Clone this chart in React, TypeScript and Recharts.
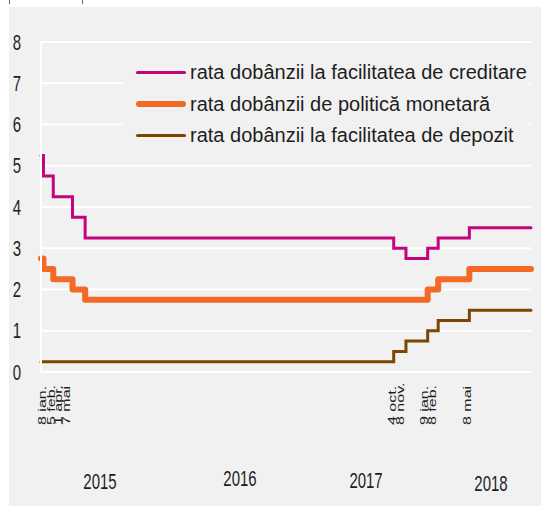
import React from "react";
import {
  LineChart,
  Line,
  XAxis,
  YAxis,
  CartesianGrid,
  Legend,
} from "recharts";

// change dates (first and last row close the range)
const dates = [
  "2015-01-01",
  "2015-01-08",
  "2015-02-05",
  "2015-04-01",
  "2015-05-07",
  "2017-10-04",
  "2017-11-08",
  "2018-01-09",
  "2018-02-08",
  "2018-05-08",
  "2018-10-31",
];
const lending = [5.25, 4.75, 4.25, 3.75, 3.25, 3.0, 2.75, 3.0, 3.25, 3.5, 3.5];
const policy = [2.75, 2.5, 2.25, 2.0, 1.75, 1.75, 1.75, 2.0, 2.25, 2.5, 2.5];
const deposit = [0.25, 0.25, 0.25, 0.25, 0.25, 0.5, 0.75, 1.0, 1.25, 1.5, 1.5];

const seriesKeys = ["lending", "policy", "deposit"];
const seriesNames = [
  "rata dobânzii la facilitatea de creditare",
  "rata dobânzii de politică monetară",
  "rata dobânzii la facilitatea de depozit",
];

const dateTicks = [
  "2015-01-08",
  "2015-02-05",
  "2015-04-01",
  "2015-05-07",
  "2017-10-04",
  "2017-11-08",
  "2018-01-09",
  "2018-02-08",
  "2018-05-08",
];
const dateLabels = [
  "8 ian.",
  "5 feb.",
  "1 apr.",
  "7 mai",
  "4 oct.",
  "8 nov.",
  "9 ian.",
  "8 feb.",
  "8 mai",
];
const yearTicks = ["2015-07-01", "2016-07-01", "2017-07-01", "2018-07-01"];
const yearLabels = ["2015", "2016", "2017", "2018"];
const yTicks = [0, 1, 2, 3, 4, 5, 6, 7, 8];

// label nudges so crowded dates don't overlap
const dateNudge = [-1.5, -2.5, -14.5, -19, -1.7, -6.5, -4, -6, -2];
const yearNudge = [-4.4, 7.4, 5.6, 2.7];
const yearBase = [489, 486, 488, 491];

const COLORS = ["#c2047d", "#f26a26", "#7b4700"];
const WIDTHS = [3, 6, 3];
const BG = "#f1f1f1";
const TEXT = "#1e1e1e";
const FONT = "Liberation Sans, Arial, sans-serif";

const toTs = (d: string) => Date.parse(d + "T00:00:00Z");

const chartData = dates.map((d, i) => ({
  t: toTs(d),
  lending: lending[i],
  policy: policy[i],
  deposit: deposit[i],
}));

const DateTick = (props: any) => {
  const { x, payload } = props;
  const i = dateTicks.findIndex((d) => toTs(d) === payload.value);
  if (i < 0) return null;
  return (
    <text
      transform={`translate(${x + dateNudge[i]},425) rotate(-90) scale(1,0.72)`}
      textAnchor="start"
      dominantBaseline="central"
      fontSize={16}
      fontFamily={FONT}
      fill={TEXT}
    >
      {dateLabels[i]}
    </text>
  );
};

const YearTick = (props: any) => {
  const { x, payload } = props;
  const i = yearTicks.findIndex((d) => toTs(d) === payload.value);
  if (i < 0) return null;
  return (
    <text
      transform={`translate(${x + yearNudge[i]},${yearBase[i]}) scale(0.68,1)`}
      textAnchor="middle"
      fontSize={22}
      fontFamily={FONT}
      fill={TEXT}
    >
      {yearLabels[i]}
    </text>
  );
};

const ValueTick = (props: any) => {
  const { y, payload } = props;
  return (
    <text
      transform={`translate(17,${y + 7.5}) scale(0.68,1)`}
      textAnchor="middle"
      fontSize={22}
      fontFamily={FONT}
      fill={TEXT}
    >
      {payload.value}
    </text>
  );
};

const LegendBox = () => (
  <div style={{ background: BG, paddingLeft: 13 }}>
    {seriesNames.map((name, i) => (
      <div
        key={seriesKeys[i]}
        style={{
          display: "flex",
          alignItems: "center",
          height: 31.5,
          fontFamily: FONT,
          fontSize: 20,
          color: TEXT,
          whiteSpace: "nowrap",
        }}
      >
        <span
          style={{
            display: "inline-block",
            width: 50,
            height: WIDTHS[i],
            borderRadius: WIDTHS[i] / 2,
            background: COLORS[i],
            marginRight: 4,
          }}
        />
        {name}
      </div>
    ))}
  </div>
);

export default function App() {
  return (
    <div
      style={{
        position: "absolute",
        left: 0,
        top: 0,
        width: 541,
        height: 506,
        background: "#fff",
        overflow: "hidden",
      }}
    >
      <div
        style={{
          position: "absolute",
          left: 9,
          top: 7,
          width: 532,
          height: 499,
          background: BG,
        }}
      />
      <div style={{ position: "absolute", left: 9, top: 0, width: 1, height: 4, background: "#666" }} />
      <div style={{ position: "absolute", left: 82, top: 0, width: 1, height: 4, background: "#666" }} />
      <div style={{ position: "absolute", left: 0, top: 0 }}>
        <LineChart
          width={541}
          height={506}
          data={chartData}
          margin={{ top: 42, right: 10, bottom: 0, left: 11 }}
        >
          <CartesianGrid vertical={false} stroke="#ffffff" strokeWidth={2} />
          <XAxis
            dataKey="t"
            type="number"
            domain={[toTs(dates[0]), toTs(dates[dates.length - 1])]}
            ticks={dateTicks.map(toTs)}
            interval={0}
            tick={<DateTick />}
            axisLine={false}
            tickLine={false}
            height={60}
          />
          <XAxis
            xAxisId="year"
            dataKey="t"
            type="number"
            domain={[toTs(dates[0]), toTs(dates[dates.length - 1])]}
            ticks={yearTicks.map(toTs)}
            interval={0}
            tick={<YearTick />}
            axisLine={false}
            tickLine={false}
            height={74}
          />
          <YAxis
            type="number"
            domain={[0, 8]}
            ticks={yTicks}
            interval={0}
            width={30}
            tick={<ValueTick />}
            axisLine={{ stroke: "#ffffff", strokeWidth: 2 }}
            tickLine={false}
          />
          <Legend
            layout="vertical"
            align="center"
            verticalAlign="middle"
            content={<LegendBox />}
            wrapperStyle={{ left: 123, top: 57, width: 406, height: 96 }}
          />
          {seriesKeys.map((k, i) => (
            <Line
              key={k}
              type="stepAfter"
              dataKey={k}
              name={seriesNames[i]}
              stroke={COLORS[i]}
              strokeWidth={WIDTHS[i]}
              strokeLinecap="round"
              strokeLinejoin={i === 1 ? "round" : "miter"}
              dot={false}
              activeDot={false}
              isAnimationActive={false}
            />
          ))}
        </LineChart>
      </div>
    </div>
  );
}
